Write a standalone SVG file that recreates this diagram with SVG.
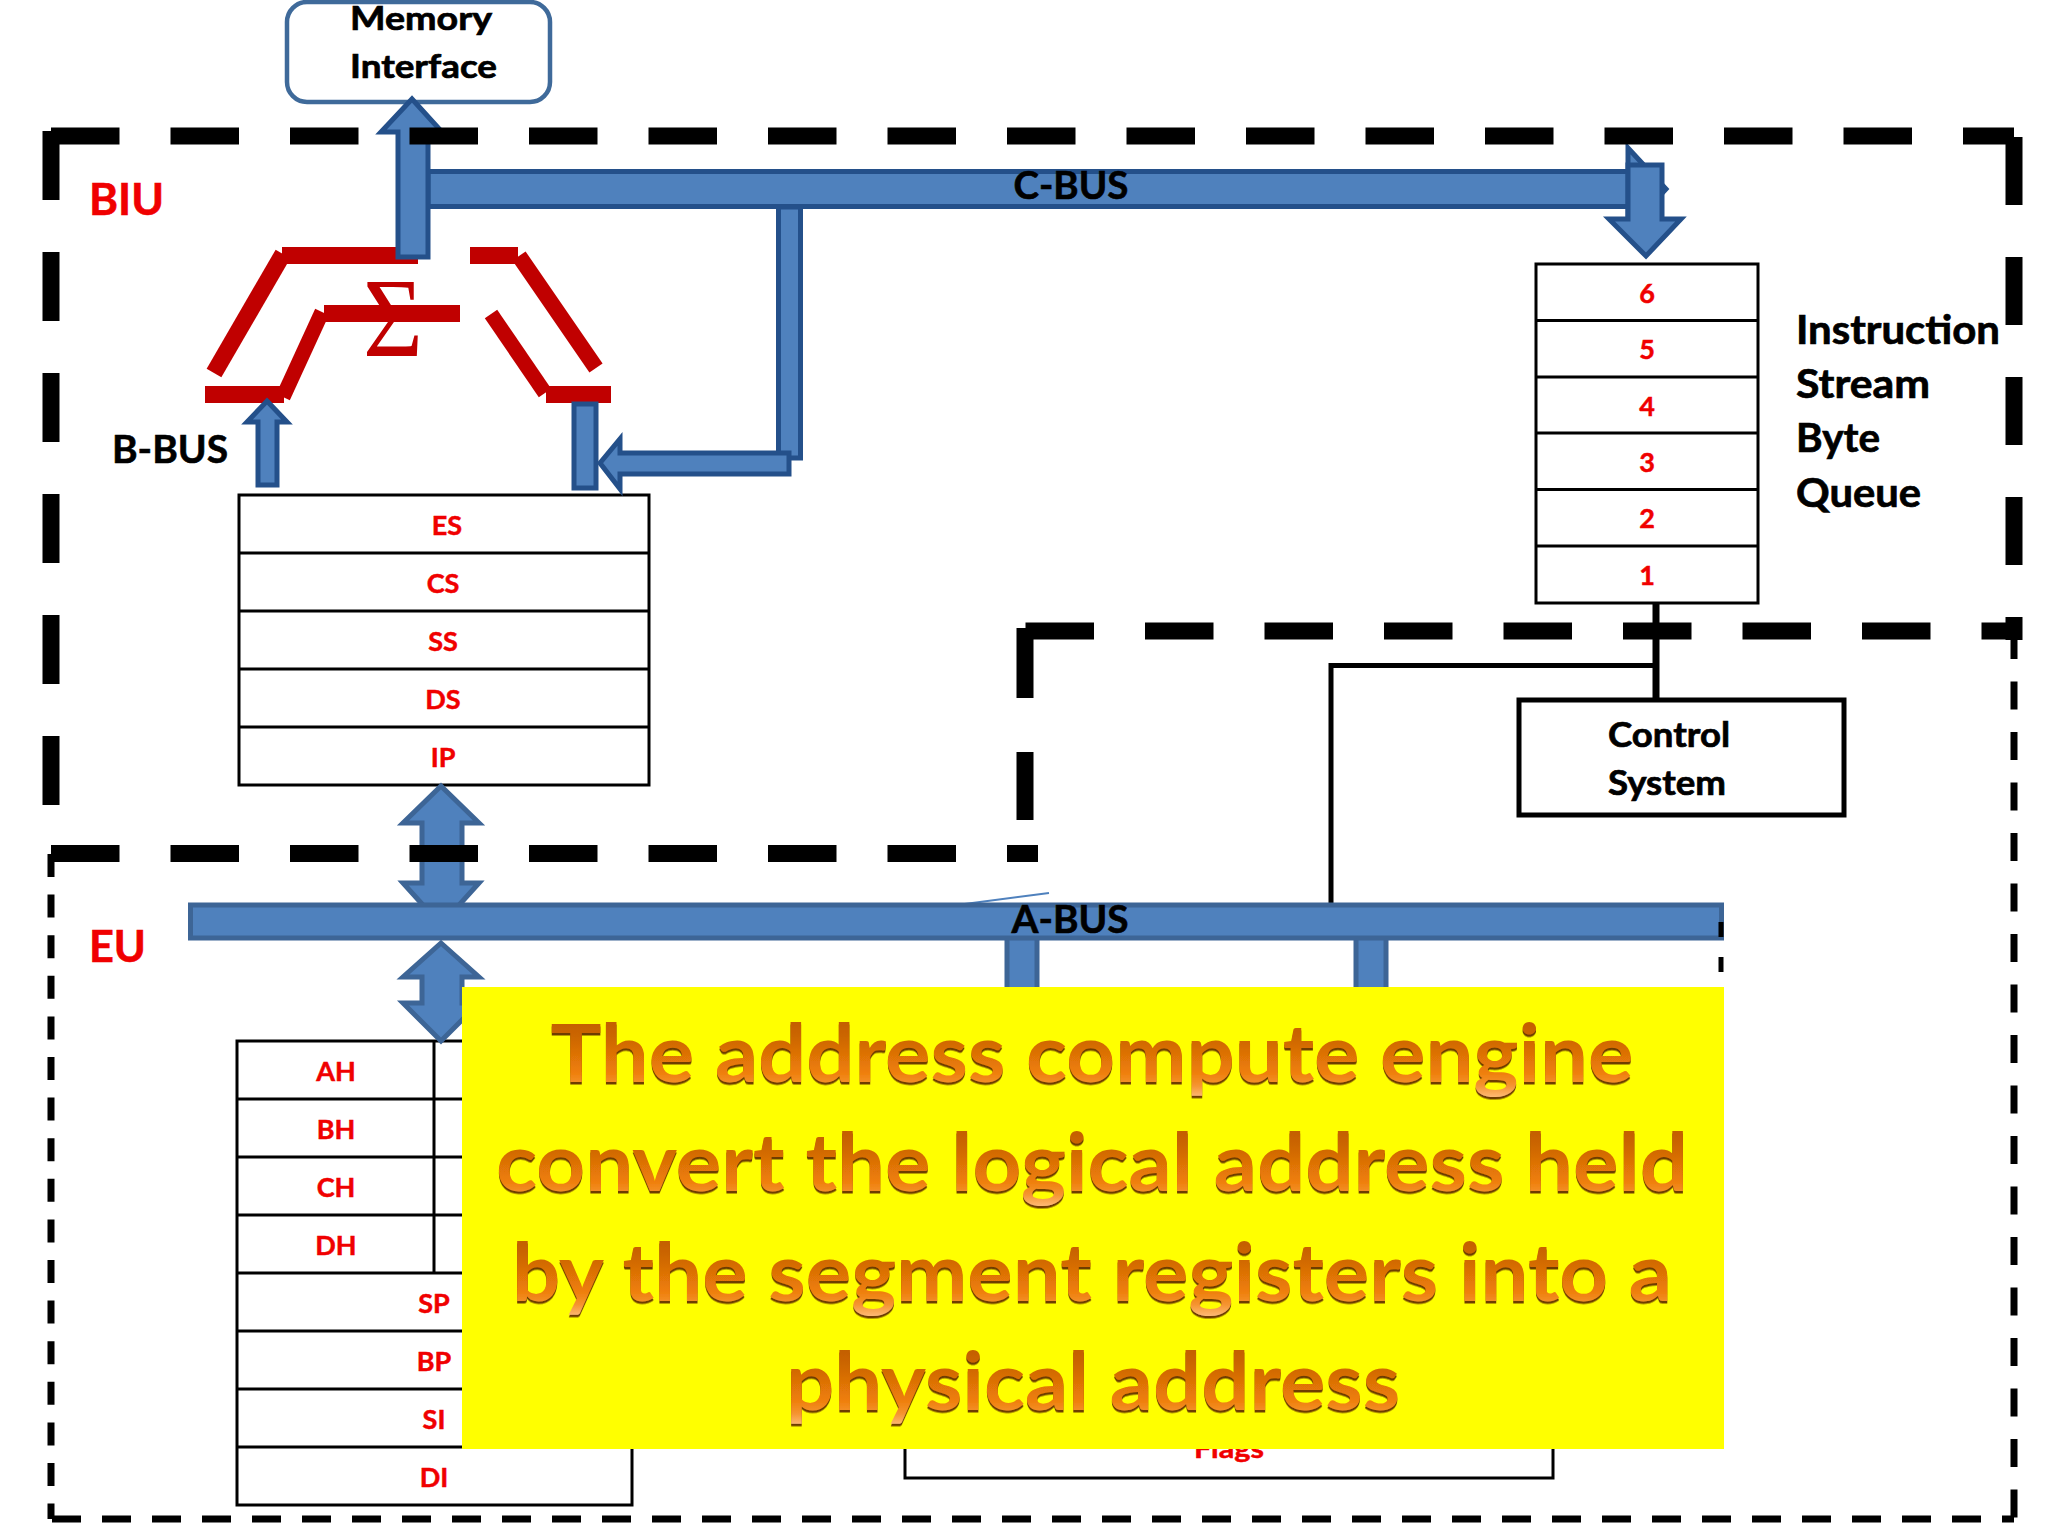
<svg xmlns="http://www.w3.org/2000/svg" width="2048" height="1536" viewBox="0 0 2048 1536">
<defs>
<linearGradient id="orange" x1="0" y1="0" x2="0" y2="1">
<stop offset="0" stop-color="#b85602"/><stop offset="0.35" stop-color="#cc6604"/><stop offset="0.72" stop-color="#ee7e08"/><stop offset="0.86" stop-color="#f59430"/><stop offset="1" stop-color="#ffc080"/>
</linearGradient>
<filter id="bevel" x="-2%" y="-10%" width="104%" height="125%"><feDropShadow dx="0" dy="2.5" stdDeviation="0.7" flood-color="#6e3e04"/></filter>
</defs>
<style>
text{font-family:"Lato","Carlito","Liberation Sans",sans-serif;font-weight:700}
.k{fill:#000;stroke:#000;stroke-width:.7}
.r{fill:#f00000;stroke:#f00000;stroke-width:.5;text-anchor:middle;font-size:27px}
.big{fill:#f00000;stroke:#f00000;stroke-width:.6;font-size:44px}
.bus{fill:#000;stroke:#000;stroke-width:.6;font-size:38px;text-anchor:middle}
.reg{fill:#fff;stroke:#000;stroke-width:3}
.ln{stroke:#000;stroke-width:3;fill:none}
.blue{fill:#4f81bd;stroke:#24508a;stroke-width:5}
.blue2{fill:#4f81bd;stroke:#3d6596;stroke-width:5}
.red{fill:#c00000;stroke:none}
.redl{stroke:#c00000;fill:none}
.dash1{stroke:#000;stroke-width:17;fill:none;stroke-dasharray:68.5 51}
.dash2{stroke:#000;fill:none}
.y{font-size:80px;text-anchor:middle;fill:url(#orange);filter:url(#bevel)}
</style>
<rect width="2048" height="1536" fill="#fff"/>

<g id="memory-interface">
<rect x="287" y="2" width="263" height="100" rx="20" fill="#fff" stroke="#3f6a9a" stroke-width="4.5"/>
<text class="k" x="350" y="30" font-size="33" textLength="142" lengthAdjust="spacingAndGlyphs">Memory</text>
<text class="k" x="350" y="77.500" font-size="33" textLength="147" lengthAdjust="spacingAndGlyphs">Interface</text>
</g>

<g id="adder">
<text x="393" y="356" text-anchor="middle" font-size="112" style="font-family:'Liberation Serif',serif;font-weight:400" fill="#c00000" transform="translate(393 0) scale(.92 1) translate(-393 0)">Σ</text>
<rect class="red" x="282" y="247" width="136" height="17"/>
<rect class="red" x="470" y="247" width="48" height="17"/>
<rect class="red" x="324" y="305" width="136" height="17"/>
<rect class="red" x="205" y="386" width="79" height="17"/>
<rect class="red" x="546" y="386" width="65" height="17"/>
<line class="redl" x1="283" y1="254" x2="214" y2="373" stroke-width="17"/>
<line class="redl" x1="322" y1="312" x2="283" y2="397" stroke-width="15"/>
<line class="redl" x1="519" y1="256" x2="596" y2="368" stroke-width="16"/>
<line class="redl" x1="491" y1="314" x2="545" y2="393" stroke-width="15"/>
</g>

<g id="segment-registers">
<rect class="reg" x="239" y="495" width="410" height="290"/>
<path class="ln" d="M239 553H649M239 611H649M239 669H649M239 727H649"/>
<text class="r" x="447" y="535">ES</text>
<text class="r" x="443" y="593">CS</text>
<text class="r" x="443" y="651">SS</text>
<text class="r" x="443" y="709">DS</text>
<text class="r" x="443" y="767">IP</text>
</g>

<g id="instruction-queue">
<rect class="reg" x="1536" y="264" width="222" height="339"/>
<path class="ln" d="M1536 320.500H1758M1536 377H1758M1536 433H1758M1536 489.500H1758M1536 546H1758"/>
<text class="r" x="1647" y="303">6</text>
<text class="r" x="1647" y="359">5</text>
<text class="r" x="1647" y="416">4</text>
<text class="r" x="1647" y="472">3</text>
<text class="r" x="1647" y="528">2</text>
<text class="r" x="1647" y="585">1</text>
<text class="k" x="1796" y="343.500" font-size="40" textLength="204" lengthAdjust="spacingAndGlyphs">Instruction</text>
<text class="k" x="1796" y="397.500" font-size="40" textLength="134" lengthAdjust="spacingAndGlyphs">Stream</text>
<text class="k" x="1796" y="452" font-size="40" textLength="84" lengthAdjust="spacingAndGlyphs">Byte</text>
<text class="k" x="1796" y="506.500" font-size="40" textLength="125" lengthAdjust="spacingAndGlyphs">Queue</text>
</g>

<g id="control-system">
<rect x="1519" y="700" width="325" height="115" fill="#fff" stroke="#000" stroke-width="5"/>
<text class="k" x="1608" y="747" font-size="35" textLength="122" lengthAdjust="spacingAndGlyphs">Control</text>
<text class="k" x="1608" y="795" font-size="35" textLength="118" lengthAdjust="spacingAndGlyphs">System</text>
</g>

<g id="general-registers">
<rect class="reg" x="237" y="1041" width="395" height="464"/>
<path class="ln" d="M237 1099H632M237 1157H632M237 1215H632M237 1273H632M237 1331H632M237 1389H632M237 1447H632M434 1041V1273"/>
<text class="r" x="336" y="1081">AH</text>
<text class="r" x="336" y="1139">BH</text>
<text class="r" x="336" y="1197">CH</text>
<text class="r" x="336" y="1255">DH</text>
<text class="r" x="434" y="1313">SP</text>
<text class="r" x="434" y="1371">BP</text>
<text class="r" x="434" y="1429">SI</text>
<text class="r" x="434" y="1487">DI</text>
</g>

<g id="flags">
<rect class="reg" x="905" y="1380" width="648" height="98"/>
<text class="r" x="1229" y="1458" textLength="70" lengthAdjust="spacingAndGlyphs">Flags</text>
</g>

<g id="connectors">
<path d="M1331 905V665.500H1656" fill="none" stroke="#000" stroke-width="5"/>
<line x1="1656" y1="603" x2="1656" y2="700" stroke="#000" stroke-width="7"/>
<line x1="957" y1="905" x2="1049" y2="893" stroke="#4f81bd" stroke-width="2"/>
<rect class="blue2" x="1007" y="930" width="30" height="60"/>
<rect class="blue2" x="1356" y="930" width="30" height="60"/>
<path class="blue2" d="M441 786L479 823H462V883H479L441 925L403 883H422V823H403Z"/>
<rect class="blue2" x="190.500" y="905" width="1531" height="33"/>
<path class="blue2" d="M441 943L479 977H462V1003H479L441 1041L403 1003H422V977H403Z"/>
<rect class="blue" x="428" y="171.500" width="1204" height="35"/>
<path class="blue" d="M1628 148L1666 189L1628 230Z"/>
<path class="blue" d="M1628 165H1662V219H1681L1646 256L1609 219H1628Z"/>
<path class="blue" d="M778.500 207H800.500V458H778.500Z"/>
<path class="blue" d="M789 453V474H620V489L600 463L620 439V453Z"/>
<rect class="blue" x="574" y="404" width="22" height="84"/>
<path class="blue" d="M412 99L442 132H428V257H398V132H381Z"/>
<path class="blue" d="M267 401L287 422H277V485H258V422H247Z"/>
</g>

<g id="boundaries">
<path class="dash1" d="M51 136H2014"/>
<path class="dash1" style="stroke-dasharray:69 52" d="M51 131V820"/>
<path class="dash1" style="stroke-dasharray:68 52" d="M2014 137V640"/>
<path class="dash1" d="M1025.500 631H2014"/>
<path class="dash1" style="stroke-dasharray:70 54" d="M1025 628V820"/>
<path class="dash1" d="M51 853.500H1038"/>
<path class="dash2" stroke-width="7" stroke-dasharray="23 17.600" d="M51 854V1519"/>
<path class="dash2" stroke-width="7" stroke-dasharray="29 21" d="M52 1519H2014"/>
<path class="dash2" stroke-width="7" stroke-dasharray="28 22.500" d="M2014 631V1519"/>
<path class="dash2" stroke-width="5" stroke-dasharray="15 20" d="M1721 922V1397"/>
</g>

<g id="labels">
<text class="big" x="89" y="215" textLength="75" lengthAdjust="spacingAndGlyphs">BIU</text>
<text class="big" x="89" y="962" textLength="57" lengthAdjust="spacingAndGlyphs">EU</text>
<text class="bus" x="1071" y="199" textLength="115" lengthAdjust="spacingAndGlyphs">C-BUS</text>
<text class="bus" x="1070" y="933" textLength="117" lengthAdjust="spacingAndGlyphs">A-BUS</text>
<text class="bus" x="170" y="463" textLength="116" lengthAdjust="spacingAndGlyphs">B-BUS</text>
</g>

<g id="callout">
<rect x="462" y="987" width="1262" height="462" fill="#ffff00"/>
<text class="y" x="1092" y="1082" textLength="1083" lengthAdjust="spacingAndGlyphs">The address compute engine</text>
<text class="y" x="1092" y="1191" textLength="1192" lengthAdjust="spacingAndGlyphs">convert the logical address held</text>
<text class="y" x="1092" y="1301" textLength="1160" lengthAdjust="spacingAndGlyphs">by the segment registers into a</text>
<text class="y" x="1093" y="1410" textLength="614" lengthAdjust="spacingAndGlyphs">physical address</text>
</g>
</svg>
